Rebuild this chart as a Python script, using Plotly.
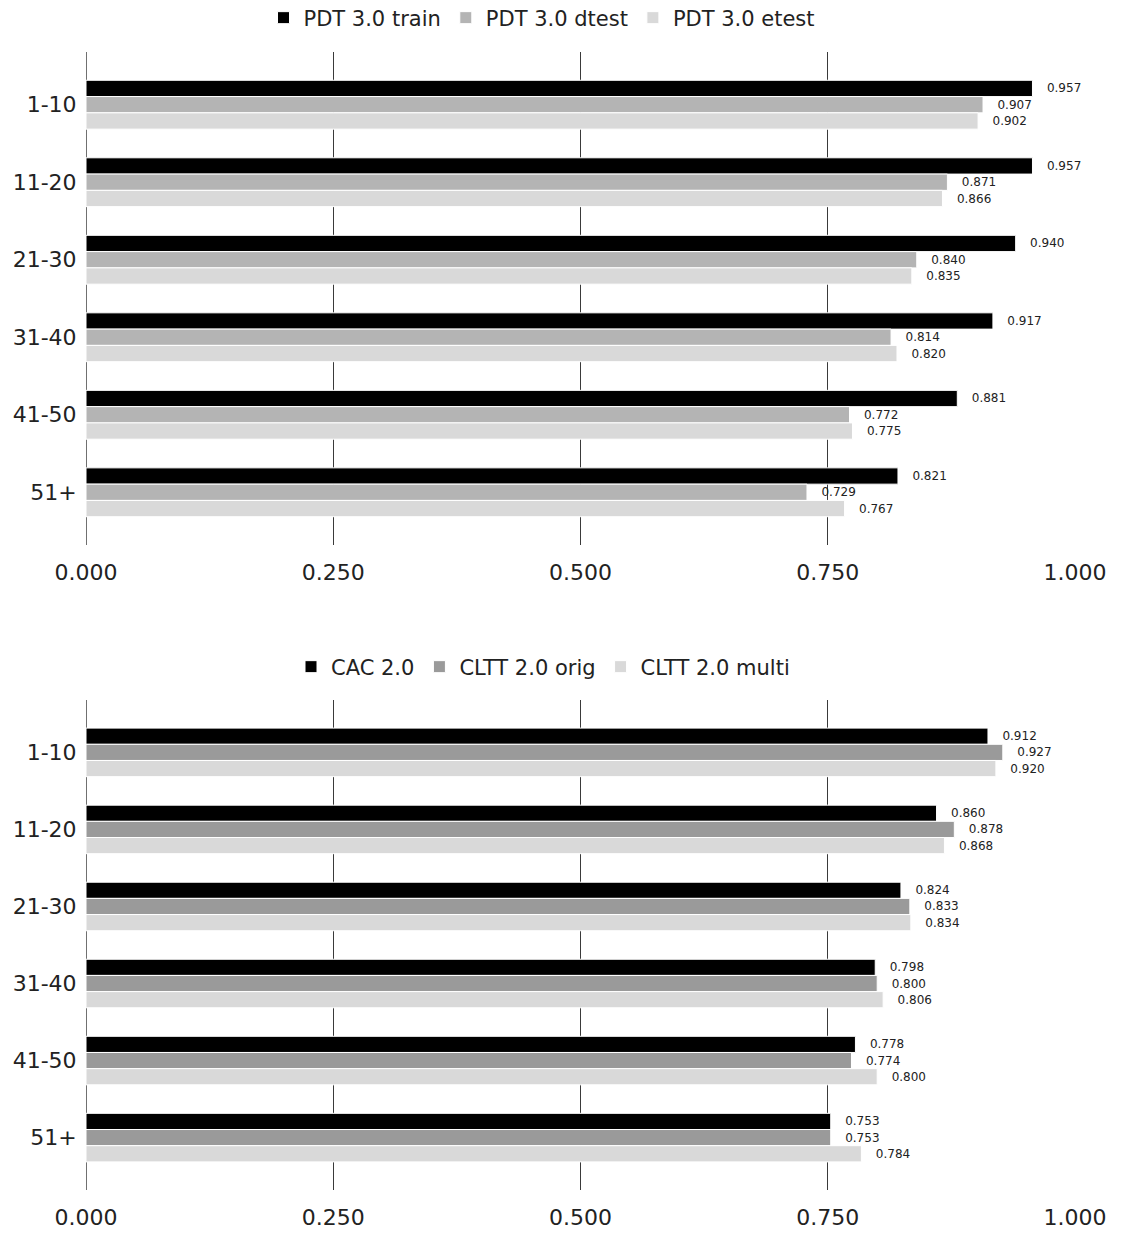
import plotly.graph_objects as go

categories = ["1-10", "11-20", "21-30", "31-40", "41-50", "51+"]

top_names = ["PDT 3.0 train", "PDT 3.0 dtest", "PDT 3.0 etest"]
top_train = [0.957, 0.957, 0.940, 0.917, 0.881, 0.821]
top_dtest = [0.907, 0.871, 0.840, 0.814, 0.772, 0.729]
top_etest = [0.902, 0.866, 0.835, 0.820, 0.775, 0.767]
top_colors = ["#000000", "#b4b4b4", "#d9d9d9"]

bot_names = ["CAC 2.0", "CLTT 2.0 orig", "CLTT 2.0 multi"]
bot_cac = [0.912, 0.860, 0.824, 0.798, 0.778, 0.753]
bot_orig = [0.927, 0.878, 0.833, 0.800, 0.774, 0.753]
bot_multi = [0.920, 0.868, 0.834, 0.806, 0.800, 0.784]
bot_colors = ["#000000", "#9a9a9a", "#d9d9d9"]

x_ticks = [0, 0.25, 0.5, 0.75, 1.0]
x_tick_labels = ["0.000", "0.250", "0.500", "0.750", "1.000"]

FONT = "DejaVu Sans"
OFF = 8  # browser body margin
W, H = 1122 - OFF, 1234 - OFF
PAD = "\u00a0\u00a0\u00a0"

fig = go.Figure()

def add_group(names, series, colors, xa, ya, legend):
    for name, vals, col in zip(names, series, colors):
        fig.add_trace(go.Bar(
            y=categories, x=vals, name=name, orientation="h",
            marker=dict(color=col, line=dict(color="white", width=1)),
            text=[PAD + f"{v:.3f}" for v in vals], textposition="outside",
            textfont=dict(size=12, color="#222222", family=FONT),
            cliponaxis=False, constraintext="none",
            xaxis=xa, yaxis=ya, legend=legend,
        ))

add_group(top_names, [top_train, top_dtest, top_etest], top_colors, "x", "y", "legend")
add_group(bot_names, [bot_cac, bot_orig, bot_multi], bot_colors, "x2", "y2", "legend2")

def px_x(p):
    return (p - OFF) / W

def px_y(p):
    return 1 - (p - OFF) / H

xdom = [px_x(86), px_x(1075)]
top_dom = [px_y(545), px_y(52)]
bot_dom = [px_y(1190), px_y(700)]

xaxis_common = dict(
    range=[0, 1.0], tickvals=x_ticks, ticktext=x_tick_labels,
    showgrid=True, gridcolor="#3a3a3a", gridwidth=1,
    zeroline=True, zerolinecolor="#707070", zerolinewidth=1,
    showline=False, ticks="outside", ticklen=8, tickcolor="rgba(0,0,0,0)",
    tickfont=dict(size=22, color="#222222", family=FONT), domain=xdom,
    fixedrange=True, automargin=False,
)
yaxis_common = dict(
    categoryorder="array", categoryarray=categories,
    range=[5.68, -0.68], showgrid=False, showline=False, zeroline=False,
    ticks="outside", ticklen=4, tickcolor="rgba(0,0,0,0)",
    tickfont=dict(size=22, color="#222222", family=FONT), automargin=False,
)

fig.update_layout(
    width=W, height=H,
    margin=dict(l=0, r=0, t=0, b=0, autoexpand=False),
    paper_bgcolor="white", plot_bgcolor="white",
    barmode="group", bargap=0.37, bargroupgap=0,
    font=dict(family=FONT, color="#222222"),
    xaxis=dict(**xaxis_common, anchor="y"),
    yaxis=dict(**yaxis_common, domain=top_dom, anchor="x"),
    xaxis2=dict(**xaxis_common, anchor="y2"),
    yaxis2=dict(**yaxis_common, domain=bot_dom, anchor="x2"),
    legend=dict(orientation="h", x=px_x(542), xanchor="center", y=px_y(18), yanchor="middle",
                font=dict(size=21, family=FONT, color="#222222"), itemwidth=30, traceorder="normal"),
    legend2=dict(orientation="h", x=px_x(543), xanchor="center", y=px_y(667), yanchor="middle",
                 font=dict(size=21, family=FONT, color="#222222"), itemwidth=30, traceorder="normal"),
    showlegend=True,
)

fig.write_html("out.html")
